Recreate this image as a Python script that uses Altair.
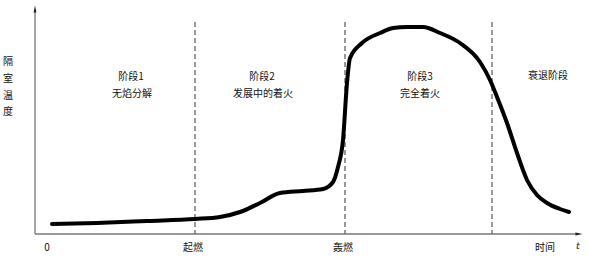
import altair as alt
import pandas as pd

# Compartment fire development curve (time vs. compartment temperature, arbitrary units)
time = [17, 62, 112, 160, 185, 205, 225, 245, 268, 288, 298, 303, 308, 312, 315,
        327, 345, 358, 372, 388, 405, 425, 445, 455, 462, 472, 482, 492, 502, 512,
        525, 534]
temp = [10, 11, 13, 15, 17, 22, 31, 41, 43, 45, 52, 67, 94, 151, 176,
        191, 201, 206, 207, 207, 201, 191, 172, 154, 137, 111, 81, 54, 39, 31,
        25, 22]

# Stage boundaries: ignition (起燃) and flashover (轰燃), start of decay
bound_x = [160, 310, 457]
bound_top = 212

# Annotations
stage_text = ["阶段1", "无焰分解", "阶段2", "发展中的着火", "阶段3", "完全着火", "衰退阶段"]
stage_x = [96, 97, 227, 228, 385, 385, 513]
stage_y = [157, 140, 157, 140, 157, 140, 158]

axis_text = ["0", "起燃", "轰燃", "时间"]
axis_x = [12, 158, 308, 510]

ylabel_chars = ["隔", "室", "温", "度"]
ylabel_y = [172, 155, 138, 122]

FONT = "Noto Sans CJK SC"
W, H = 548, 229

xs = alt.Scale(domain=[0, W], nice=False, zero=False)
ys = alt.Scale(domain=[0, H], nice=False, zero=False)

curve = pd.DataFrame({"t": time, "T": temp})
bounds = pd.DataFrame({"t": bound_x, "top": [bound_top] * len(bound_x), "bottom": [0] * len(bound_x)})
stages = pd.DataFrame({"t": stage_x, "T": stage_y, "label": stage_text})
ticks = pd.DataFrame({"t": axis_x, "label": axis_text})
ylab = pd.DataFrame({"T": ylabel_y, "label": ylabel_chars})
one = pd.DataFrame({"a": [0]})

line = alt.Chart(curve).mark_line(color="black", strokeWidth=4, interpolate="monotone",
                                  strokeCap="round", strokeJoin="round").encode(
    x=alt.X("t:Q", scale=xs, axis=None),
    y=alt.Y("T:Q", scale=ys, axis=None),
)

dashes = alt.Chart(bounds).mark_rule(color="#333", strokeWidth=1, strokeDash=[5, 3]).encode(
    x=alt.X("t:Q", scale=xs, axis=None),
    y=alt.Y("top:Q", scale=ys, axis=None),
    y2="bottom:Q",
)

# axes drawn as plain lines with narrow arrow heads
y_axis = alt.Chart(one).mark_rule(color="#777", strokeWidth=1.3).encode(
    x=alt.value(0), y=alt.value(4), y2=alt.value(H)
)
x_axis = alt.Chart(one).mark_rule(color="#777", strokeWidth=1.3).encode(
    x=alt.value(0), x2=alt.value(W - 4), y=alt.value(H)
)
y_arrow = alt.Chart(one).mark_point(
    shape="M0,-1L0.4,1L-0.4,1Z", filled=True, color="#222", size=50, opacity=1
).encode(x=alt.value(0), y=alt.value(4))
x_arrow = alt.Chart(one).mark_point(
    shape="M1,0L-1,0.4L-1,-0.4Z", filled=True, color="#222", size=50, opacity=1
).encode(x=alt.value(W - 4), y=alt.value(H))

stage_labels = alt.Chart(stages).mark_text(font=FONT, fontSize=10, color="#111").encode(
    x=alt.X("t:Q", scale=xs, axis=None),
    y=alt.Y("T:Q", scale=ys, axis=None),
    text="label:N",
)

tick_labels = alt.Chart(ticks).mark_text(font=FONT, fontSize=10, color="#111").encode(
    x=alt.X("t:Q", scale=xs, axis=None),
    y=alt.value(H + 14),
    text="label:N",
)

t_label = alt.Chart(one).mark_text(
    font="DejaVu Serif", fontStyle="italic", fontSize=10, color="#111", text="t"
).encode(x=alt.value(W - 5), y=alt.value(H + 12))

y_title = alt.Chart(ylab).mark_text(font=FONT, fontSize=10, color="#111").encode(
    x=alt.value(-27),
    y=alt.Y("T:Q", scale=ys, axis=None),
    text="label:N",
)

chart = alt.layer(
    dashes, y_axis, x_axis, y_arrow, x_arrow, line, stage_labels, tick_labels, t_label, y_title
).properties(
    width=W, height=H,
    padding={"left": 35, "top": 5, "right": 6, "bottom": 24},
    autosize=alt.AutoSizeParams(type="none"),
).configure_view(stroke=None)

chart.save("out.html", embed_options={"renderer": "svg", "actions": False})
